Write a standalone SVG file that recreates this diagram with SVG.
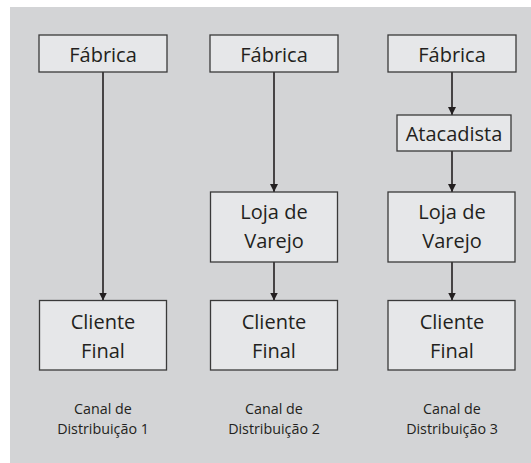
<svg xmlns="http://www.w3.org/2000/svg" width="531" height="463" viewBox="0 0 531 463">
<defs>
<marker id="arr" markerWidth="8" markerHeight="8" refX="8" refY="4" orient="auto" markerUnits="userSpaceOnUse">
<path d="M0,0 L8,4 L0,8 Z" fill="#231f20"/>
</marker>
<style>
.box{fill:#e6e7e9;stroke:#3a3a3a;stroke-width:1.3}
.t{font-family:"Open Sans","Noto Sans",sans-serif;font-size:20px;fill:#231f20;text-anchor:middle}
.l{font-family:"Open Sans","Noto Sans",sans-serif;font-size:14.3px;fill:#231f20;text-anchor:middle}
.c{stroke:#231f20;stroke-width:1.6;fill:none;marker-end:url(#arr)}
</style>
</defs>
<rect width="531" height="463" fill="#ffffff"/>
<rect x="10" y="7" width="521" height="456" fill="#d3d4d6"/>
<g id="connectors">
<line class="c" x1="103" y1="72" x2="103" y2="300.5"/>
<line class="c" x1="274" y1="72" x2="274" y2="192"/>
<line class="c" x1="274" y1="262" x2="274" y2="300.5"/>
<line class="c" x1="452" y1="72" x2="452" y2="115"/>
<line class="c" x1="452" y1="151" x2="452" y2="192"/>
<line class="c" x1="452" y1="262" x2="452" y2="300.5"/>
</g>
<g id="fabrica1"><rect class="box" x="39" y="35" width="128" height="37"/><text class="t" x="103" y="62">Fábrica</text></g>
<g id="cliente1"><rect class="box" x="39.5" y="300.5" width="127" height="69.5"/><text class="t" x="103" y="329">Cliente</text><text class="t" x="103" y="358">Final</text></g>
<g id="fabrica2"><rect class="box" x="210" y="35" width="128" height="37"/><text class="t" x="274" y="62">Fábrica</text></g>
<g id="loja2"><rect class="box" x="210.5" y="192" width="127" height="70"/><text class="t" x="274" y="219">Loja de</text><text class="t" x="274" y="248">Varejo</text></g>
<g id="cliente2"><rect class="box" x="210.5" y="300.5" width="127" height="69.5"/><text class="t" x="274" y="329">Cliente</text><text class="t" x="274" y="358">Final</text></g>
<g id="fabrica3"><rect class="box" x="388" y="35" width="128" height="37"/><text class="t" x="452" y="62">Fábrica</text></g>
<g id="atacadista3"><rect class="box" x="397" y="115" width="114" height="36"/><text class="t" x="454" y="141">Atacadista</text></g>
<g id="loja3"><rect class="box" x="388" y="192" width="127" height="70"/><text class="t" x="452" y="219">Loja de</text><text class="t" x="452" y="248">Varejo</text></g>
<g id="cliente3"><rect class="box" x="388" y="300.5" width="127" height="69.5"/><text class="t" x="452" y="329">Cliente</text><text class="t" x="452" y="358">Final</text></g>
<g id="label1"><text class="l" x="103" y="414">Canal de</text><text class="l" x="103" y="434">Distribuição 1</text></g>
<g id="label2"><text class="l" x="274" y="414">Canal de</text><text class="l" x="274" y="434">Distribuição 2</text></g>
<g id="label3"><text class="l" x="452" y="414">Canal de</text><text class="l" x="452" y="434">Distribuição 3</text></g>
</svg>
